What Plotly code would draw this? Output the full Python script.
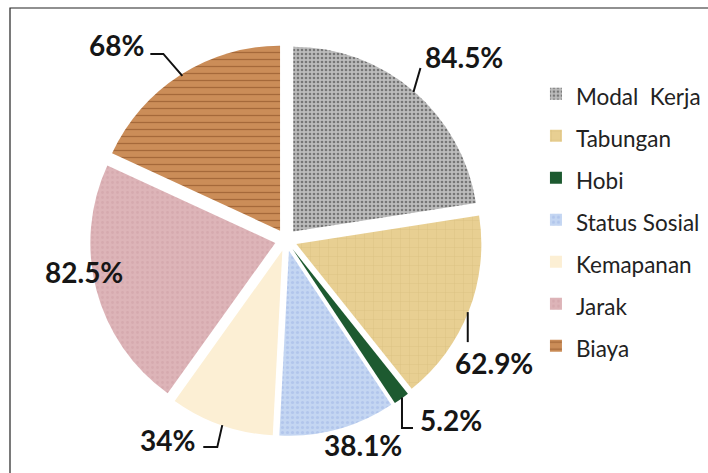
import math
import plotly.graph_objects as go

categories = ["Modal  Kerja", "Tabungan", "Hobi", "Status Sosial", "Kemapanan", "Jarak", "Biaya"]
values = [84.5, 62.9, 5.2, 38.1, 34, 82.5, 68]

# label centre offsets (pixels) from the mid-point of each slice's outer edge
label_dx = [51, 25, 50, 25, -54, -12, -64]
label_dy = [-34, 52, 21, 16, 15, -18, -30]
# leader line vertices as pixel offsets from the same edge mid-point
leaders = [
    [(0, 1), (7, -23)],
    [(-1, 1), (-1, 31)],
    [(0.5, -1), (0.5, 29.5), (11.5, 29.5)],
    [],
    [(1, 0), (-4, 22), (-18, 22)],
    [],
    [(2, 1), (-17, -21), (-30, -21)],
]

bg_colors = ["#bcbcbc", "#e8cf92", "#1d5a30", "#c4d6f2", "#fcefd4", "#ddb4b8", "#cb8d58"]
fg_colors = ["#767676", "#d9bd7e", "#123d20", "#b2c6ec", "#f3e2bf", "#d6aaaf", "#a5693a"]
shapes = [".", "+", "", ".", "", ".", "-"]
sizes = [4, 9, 8, 5, 8, 5, 7]
solidity = [0.35, 0.08, 0.3, 0.3, 0.3, 0.25, 0.18]

W, H = 708, 473
DOM_X = [0.127, 0.681]
DOM_Y = [0.078, 0.907]
PULL = 0.06
LABEL_FONT = "Lato, 'Open Sans', sans-serif"

fig = go.Figure(go.Pie(
    labels=[f"<span style='font-size:22.5px'>{c}</span>" for c in categories],
    values=values,
    sort=False,
    direction="clockwise",
    rotation=0,
    pull=[PULL] * len(values),
    textinfo="none",
    marker=dict(
        colors=bg_colors,
        line=dict(color="white", width=0),
        pattern=dict(shape=shapes, bgcolor=bg_colors, fgcolor=fg_colors,
                     size=sizes, solidity=solidity, fillmode="replace"),
    ),
    domain=dict(x=DOM_X, y=DOM_Y),
    hovertext=categories,
    hoverinfo="text+value",
))

# geometry of the pie as plotly lays it out (used to anchor the labels)
box_w = (DOM_X[1] - DOM_X[0]) * W
box_h = (DOM_Y[1] - DOM_Y[0]) * H
r = min(box_w, box_h) / (2 + 2 * PULL)
cx = (DOM_X[0] + DOM_X[1]) / 2 * W
cy = H * (1 - DOM_Y[0]) - box_h / 2
total = sum(values)


def to_paper(px, py):
    return px / W, 1 - py / H


cum = 0.0
for v, dx, dy, lead in zip(values, label_dx, label_dy, leaders):
    mid = (cum + v / 2) / total * 2 * math.pi
    cum += v
    px = cx + (r + PULL * r) * math.sin(mid)
    py = cy - (r + PULL * r) * math.cos(mid)
    lx, ly = to_paper(px + dx, py + dy)
    fig.add_annotation(
        x=lx, y=ly, xref="paper", yref="paper", showarrow=False,
        text=f"{v:g}%", xanchor="center", yanchor="middle",
        font=dict(family=LABEL_FONT, size=28, color="#161616", weight="bold"),
    )
    if lead:
        pts = [to_paper(px + ox, py + oy) for ox, oy in lead]
        path = "M " + " L ".join(f"{a:.5f},{b:.5f}" for a, b in pts)
        fig.add_shape(type="path", xref="paper", yref="paper", path=path,
                      line=dict(color="#111111", width=2))

fig.add_shape(type="rect", xref="paper", yref="paper",
              x0=10 / W, x1=1.01, y0=-0.03, y1=(H - 8) / H,
              line=dict(color="#222222", width=1.2), fillcolor="rgba(0,0,0,0)")

fig.update_layout(
    width=W, height=H,
    margin=dict(l=0, r=0, t=0, b=0, autoexpand=False),
    paper_bgcolor="white",
    plot_bgcolor="white",
    showlegend=True,
    legend=dict(
        x=0.757, y=0.857, xanchor="left", yanchor="top",
        font=dict(family=LABEL_FONT, size=30, color="#222222"),
        bgcolor="rgba(0,0,0,0)",
    ),
)

fig.write_html("out.html")
